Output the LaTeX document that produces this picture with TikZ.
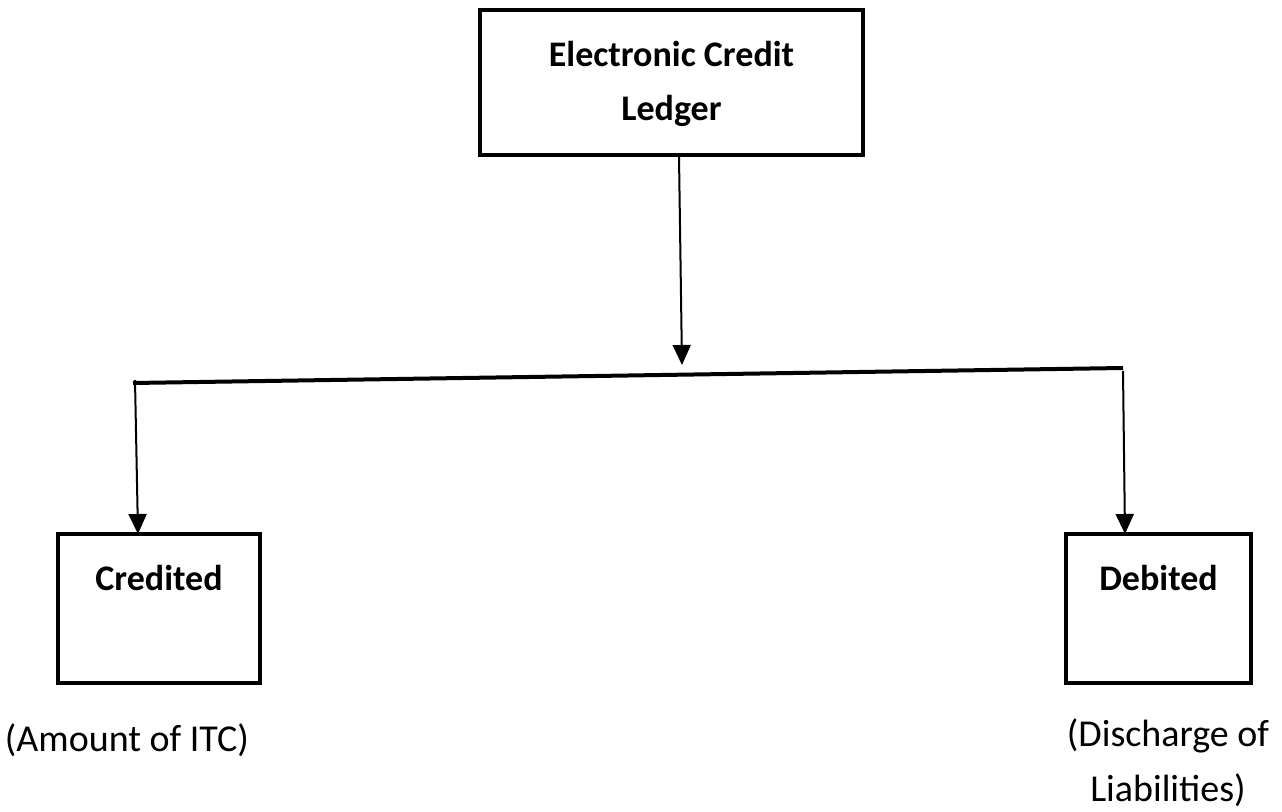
\documentclass[tikz,border=0pt]{standalone}
\usepackage{fontspec}
\setmainfont{Carlito}
\usetikzlibrary{arrows.meta,calc}

\tikzset{
  box/.style={draw, line width=2.4pt, inner sep=0pt},
  head/.style={font=\bfseries\fontsize{27}{41}\selectfont, align=center},
  note/.style={font=\fontsize{28.5}{41}\selectfont, align=center, inner sep=0pt},
  arr/.style={line width=1.5pt, -{Triangle[length=15pt,width=13.5pt]}},
  bar/.style={line width=3pt}
}

\begin{document}
\begin{tikzpicture}[x=0.75pt,y=-0.75pt]
\useasboundingbox (0,0) rectangle (1282,812);
\node[box, minimum width=287.25pt, minimum height=108.75pt] (ledger) at (671.5,82.5) {};
\node[head] (ledgertxt) at (671.5,84) {Electronic Credit\\Ledger};

\node[box, minimum width=151.5pt, minimum height=111.75pt] (credited) at (159,608.5) {};
\node[box, minimum width=138.75pt, minimum height=111.75pt] (debited) at (1158.5,608.5) {};
\node[head] (credtxt) at (159,578) {Credited};
\node[head] (debtxt) at (1158.5,578) {Debited};

\node[note] (itc) at (127,740) {(Amount of ITC)};
\node[note] (liab) at (1168,763) {(Discharge of\\Liabilities)};

\coordinate (ledgerout) at ($(ledger.south)+(7.5,0)$);
\coordinate (barL) at (133,383);
\coordinate (barR) at (1123,368);
\coordinate (barM) at (682,365);
\coordinate (credin) at (138,534);
\coordinate (debin) at (1125,534);

\draw[bar] (barL) -- (barR);
\draw[arr] (ledgerout) -- (barM);
\draw[arr] ($(barL)+(2,-3)$) -- (credin);
\draw[arr] ($(barR)+(0,3)$) -- (debin);
\end{tikzpicture}
\end{document}
